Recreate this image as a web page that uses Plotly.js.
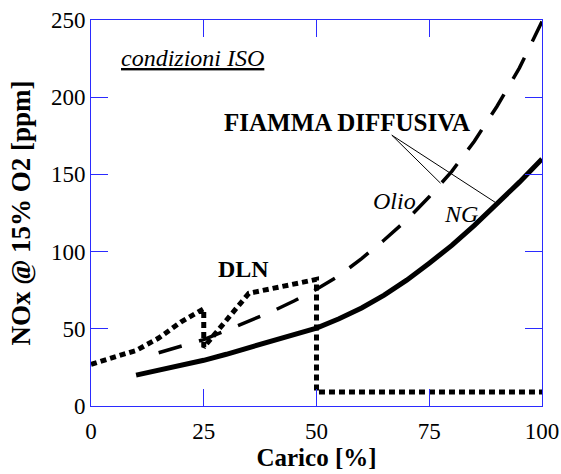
<!DOCTYPE html>
<html>
<head>
<meta charset="utf-8">
<script src="https://cdn.plot.ly/plotly-3.0.1.min.js"></script>
<style>
html,body{margin:0;padding:0;background:#fff;}
#chart{width:561px;height:474px;}
</style>
</head>
<body>
<div id="chart"></div>
<script>
// Carico [%] vs NOx @ 15% O2 [ppm]
const ngX  = [10, 15, 20, 25, 30, 35, 40, 45, 50, 55, 60, 65, 70, 75, 80, 85, 90, 95, 100];
const ngY  = [20, 23, 26, 29.6, 33.5, 37.6, 41.8, 46, 50.5, 56.5, 63.5, 71.8, 81.5, 92.5, 104, 117, 130.5, 145, 160];

const oilX = [15, 20, 25, 30, 35, 40, 45, 50, 55, 60, 65, 70, 75, 80, 85, 90, 95, 100];
const oilY = [34.5, 38.7, 43, 49, 55, 61, 68, 75.6, 84.4, 95.5, 107.5, 120.5, 135.5, 152, 171.5, 194, 219, 249];

const dlnX = [0, 10, 15, 20, 25, 25, 35, 50, 50, 100];
const dlnY = [27, 36, 44, 54.5, 63, 38, 73, 82, 9, 9];

const xTicks = [0, 25, 50, 75, 100];
const yTicks = [0, 50, 100, 150, 200, 250];

const serif = 'Liberation Serif';
const axisBlue = '#2b2bff';

const traces = [
  {x: dlnX, y: dlnY, mode: 'lines', line: {color: '#000', width: 5, dash: '6px,4px'}, hoverinfo: 'skip'},
  {x: oilX, y: oilY, mode: 'lines', line: {color: '#000', width: 3.5, dash: '24px,18px'}, hoverinfo: 'skip'},
  {x: ngX, y: ngY, mode: 'lines', line: {color: '#000', width: 5}, hoverinfo: 'skip'}
];

const axisCommon = {
  showline: true, linecolor: axisBlue, linewidth: 1, mirror: 'ticks',
  ticks: 'inside', ticklen: 17, tickwidth: 1, tickcolor: axisBlue,
  showgrid: false, zeroline: false, fixedrange: true,
  tickfont: {family: serif, size: 23, color: '#000'}
};

const layout = {
  width: 561, height: 474,
  margin: {l: 91, r: 19, t: 20, b: 68},
  paper_bgcolor: '#fff', plot_bgcolor: '#fff',
  showlegend: false,
  font: {family: serif, color: '#000'},
  xaxis: Object.assign({}, axisCommon, {
    range: [0, 100], tickvals: xTicks, ticktext: xTicks.map(String), ticklabelstandoff: 4,
    title: {text: '<b>Carico [%]</b>', font: {family: serif, size: 25, color: '#000'}, standoff: 2}
  }),
  yaxis: Object.assign({}, axisCommon, {
    range: [0, 250], tickvals: yTicks, ticktext: yTicks.map(String),
    title: {text: '<b>NOx @ 15% O2 [ppm]</b>', font: {family: serif, size: 27, color: '#000'}, standoff: 12}
  }),
  annotations: [
    {x: 22.5, y: 225.3, xref: 'x', yref: 'y', text: '<i><u>condizioni ISO</u></i>', showarrow: false,
     font: {family: serif, size: 24, color: '#000'}},
    {x: 56.8, y: 183.9, xref: 'x', yref: 'y', text: '<b>FIAMMA DIFFUSIVA</b>', showarrow: false,
     font: {family: serif, size: 25, color: '#000'}},
    {x: 33.8, y: 88.9, xref: 'x', yref: 'y', text: '<b>DLN</b>', showarrow: false,
     font: {family: serif, size: 24, color: '#000'}},
    {x: 67.3, y: 132.7, xref: 'x', yref: 'y', text: '<i>Olio</i>', showarrow: false,
     font: {family: serif, size: 24, color: '#000'}},
    {x: 82, y: 124.2, xref: 'x', yref: 'y', text: '<i>NG</i>', showarrow: false,
     font: {family: serif, size: 24, color: '#000'}}
  ],
  shapes: [
    {type: 'line', xref: 'x', yref: 'y', x0: 66.7, y0: 175.4, x1: 77.5, y1: 144.3, line: {color: '#000', width: 1}},
    {type: 'line', xref: 'x', yref: 'y', x0: 66.7, y0: 175.4, x1: 90.0, y1: 131.2, line: {color: '#000', width: 1}}
  ]
};

Plotly.newPlot('chart', traces, layout, {staticPlot: true, displayModeBar: false});
</script>
</body>
</html>
